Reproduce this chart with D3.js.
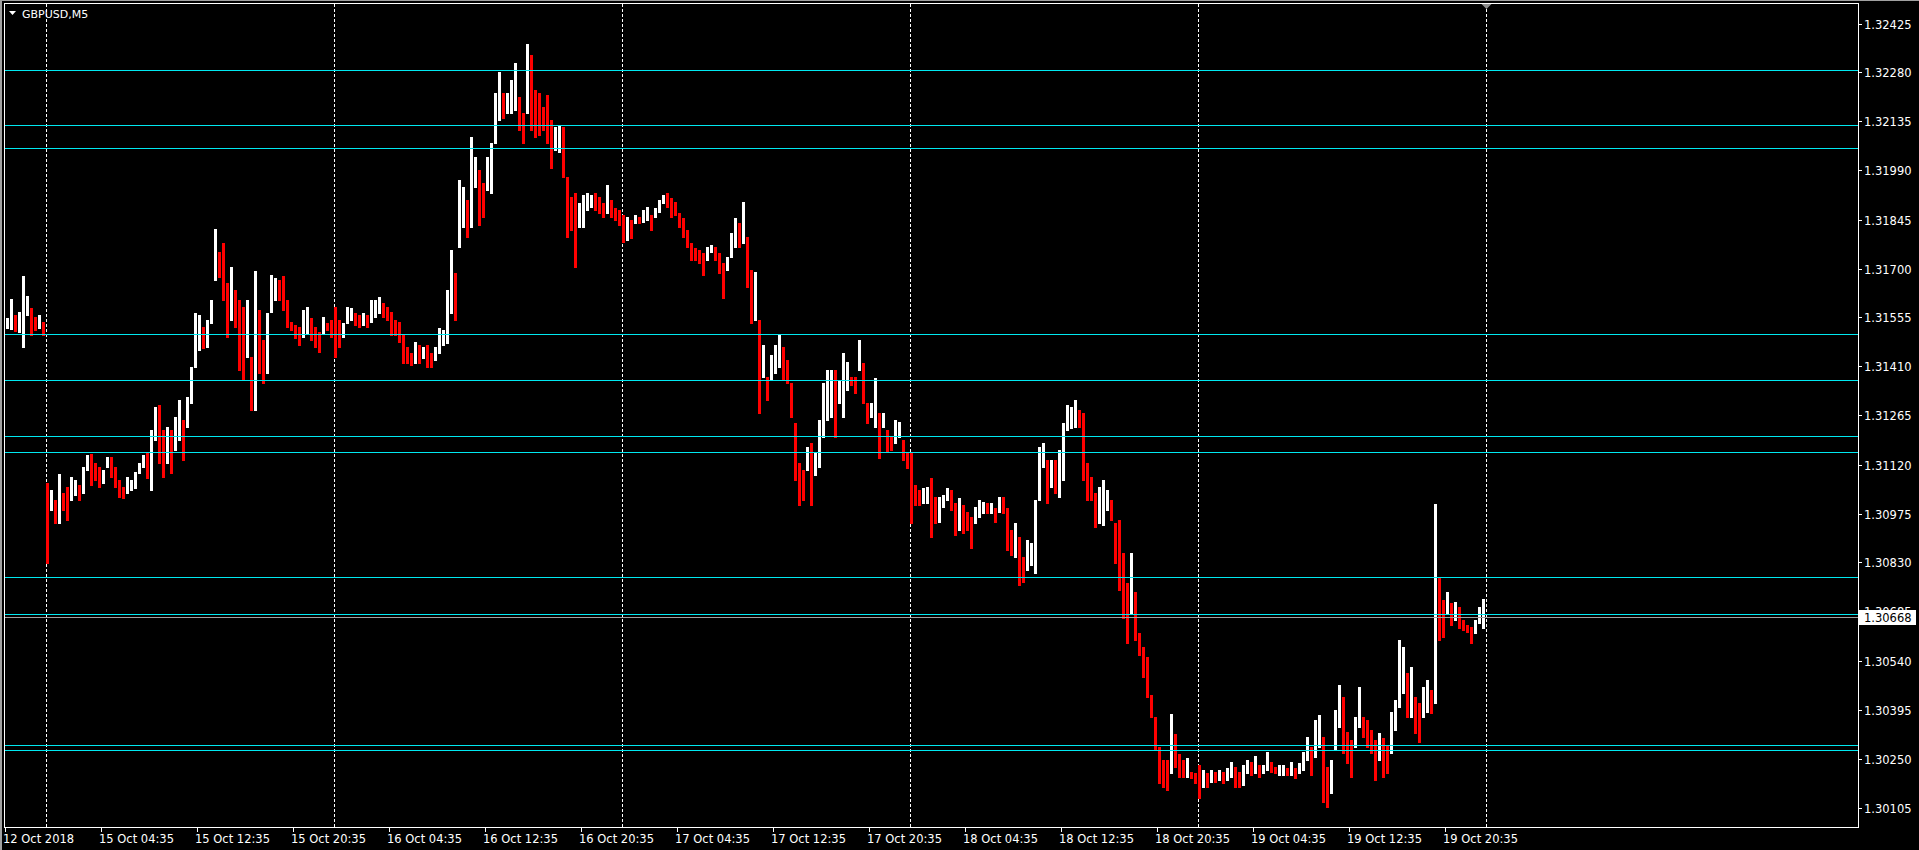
<!DOCTYPE html>
<html><head><meta charset="utf-8">
<script src="https://cdn.jsdelivr.net/npm/d3@7"></script>
<style>html,body{margin:0;padding:0;background:#000;overflow:hidden}svg{display:block}</style>
</head><body>
<svg id="chart" width="1919" height="850"></svg>
<script>
const symbolTitle = "GBPUSD,M5";
const priceTicks = [1.32425,1.32280,1.32135,1.31990,1.31845,1.31700,1.31555,1.31410,1.31265,1.31120,1.30975,1.30830,1.30685,1.30540,1.30395,1.30250,1.30105];
const timeLabels = ["12 Oct 2018","15 Oct 04:35","15 Oct 12:35","15 Oct 20:35","16 Oct 04:35","16 Oct 12:35","16 Oct 20:35","17 Oct 04:35","17 Oct 12:35","17 Oct 20:35","18 Oct 04:35","18 Oct 12:35","18 Oct 20:35","19 Oct 04:35","19 Oct 12:35","19 Oct 20:35"];
const timeLabelBars = [0,96,192,288,384,480,576,672,768,864,960,1056,1152,1248,1344,1440];
const dayStartBars = [41,329,617,905,1193,1481];
const levelPrices = [1.32288,1.32125,1.32057,1.31507,1.31371,1.31205,1.31158,1.30788,1.30678,1.30289,1.30276];
const lastPrice = 1.30668;
const barsPerEntry = 4;   // each entry aggregates 4 M5 bars (20 minutes)
const firstEntryBar = 1;

const highs = [
1.31555,1.31611,1.31564,1.31573,1.31679,1.31620,1.31585,1.31558,1.31564,1.31543,
1.31067,1.31046,1.31017,1.31093,1.31037,1.31055,1.31084,1.31076,1.31061,1.31114,
1.31150,1.31153,1.31126,1.31114,1.31105,1.31144,1.31144,1.31114,1.31076,1.31055,
1.31084,1.31076,1.31099,1.31126,1.31150,1.31156,1.31224,1.31292,1.31298,1.31224,
1.31233,1.31224,1.31262,1.31313,1.31253,1.31322,1.31410,1.31570,1.31564,1.31528,
1.31549,1.31608,1.31818,1.31750,1.31777,1.31659,1.31706,1.31638,1.31608,1.31587,
1.31608,1.31440,1.31694,1.31579,1.31490,1.31570,1.31682,1.31674,1.31668,1.31679,
1.31608,1.31543,1.31534,1.31528,1.31579,1.31587,1.31555,1.31528,1.31514,1.31558,
1.31540,1.31549,1.31587,1.31549,1.31540,1.31587,1.31585,1.31570,1.31564,1.31570,
1.31564,1.31608,1.31608,1.31617,1.31599,1.31587,1.31573,1.31549,1.31543,1.31505,
1.31469,1.31451,1.31484,1.31475,1.31469,1.31475,1.31451,1.31469,1.31525,1.31520,
1.31638,1.31756,1.31688,1.31963,1.31942,1.31904,1.32090,1.32032,1.31993,1.31954,
1.32032,1.32073,1.32221,1.32283,1.32221,1.32221,1.32259,1.32309,1.32209,1.32162,
1.32366,1.32333,1.32230,1.32221,1.32180,1.32215,1.32141,1.32120,1.32126,1.32120,
1.31972,1.31913,1.31925,1.31895,1.31919,1.31925,1.31919,1.31925,1.31913,1.31895,
1.31948,1.31904,1.31880,1.31875,1.31860,1.31854,1.31845,1.31860,1.31854,1.31875,
1.31884,1.31860,1.31880,1.31904,1.31919,1.31925,1.31910,1.31898,1.31866,1.31851,
1.31815,1.31777,1.31762,1.31756,1.31747,1.31765,1.31771,1.31765,1.31747,1.31718,
1.31736,1.31806,1.31851,1.31836,1.31898,1.31794,1.31697,1.31691,1.31549,1.31475,
1.31381,1.31446,1.31475,1.31508,1.31469,1.31431,1.31363,1.31244,1.31126,1.31105,
1.31174,1.31185,1.31159,1.31253,1.31363,1.31401,1.31401,1.31401,1.31372,1.31451,
1.31425,1.31381,1.31381,1.31490,1.31422,1.31304,1.31304,1.31378,1.31274,1.31274,
1.31224,1.31203,1.31253,1.31247,1.31194,1.31159,1.31159,1.31061,1.31046,1.31052,
1.31055,1.31081,1.31025,1.31025,1.31031,1.31052,1.31046,1.31008,1.31022,1.31002,
1.30981,1.30966,1.30996,1.31017,1.31011,1.31008,1.31008,1.30993,1.31025,1.31025,
1.30993,1.30928,1.30948,1.30907,1.30848,1.30898,1.30889,1.31017,1.31174,1.31185,
1.31135,1.31135,1.31135,1.31165,1.31244,1.31298,1.31292,1.31313,1.31283,1.31274,
1.31126,1.31084,1.31037,1.31055,1.31076,1.31046,1.31017,1.30948,1.30957,1.30860,
1.30771,1.30860,1.30744,1.30623,1.30582,1.30552,1.30440,1.30375,1.30286,1.30247,
1.30247,1.30384,1.30325,1.30265,1.30247,1.30253,1.30212,1.30209,1.30233,1.30218,
1.30209,1.30218,1.30212,1.30218,1.30212,1.30224,1.30241,1.30227,1.30212,1.30233,
1.30247,1.30241,1.30259,1.30233,1.30233,1.30271,1.30241,1.30227,1.30233,1.30233,
1.30224,1.30241,1.30224,1.30238,1.30271,1.30316,1.30286,1.30366,1.30381,1.30316,
1.30227,1.30247,1.30395,1.30469,1.30434,1.30330,1.30307,1.30375,1.30464,1.30375,
1.30366,1.30336,1.30307,1.30327,1.30313,1.30292,1.30389,1.30425,1.30602,1.30582,
1.30505,1.30523,1.30434,1.30416,1.30464,1.30484,1.30455,1.31005,1.30786,1.30721,
1.30744,1.30712,1.30715,1.30700,1.30662,1.30647,1.30641,1.30662,1.30700,1.30724
];
const lows = [
1.31525,1.31522,1.31517,1.31514,1.31469,1.31564,1.31505,1.31520,1.31525,1.31505,
1.30830,1.30987,1.30948,1.30948,1.30987,1.30957,1.31017,1.31031,1.31017,1.31037,
1.31105,1.31061,1.31076,1.31055,1.31067,1.31114,1.31084,1.31055,1.31025,1.31022,
1.31037,1.31046,1.31052,1.31096,1.31114,1.31081,1.31046,1.31194,1.31126,1.31084,
1.31126,1.31096,1.31165,1.31194,1.31135,1.31233,1.31304,1.31410,1.31460,1.31466,
1.31469,1.31540,1.31668,1.31676,1.31608,1.31499,1.31549,1.31528,1.31401,1.31372,
1.31440,1.31283,1.31283,1.31392,1.31363,1.31392,1.31573,1.31608,1.31608,1.31579,
1.31528,1.31520,1.31496,1.31475,1.31499,1.31511,1.31490,1.31469,1.31454,1.31511,
1.31520,1.31499,1.31440,1.31469,1.31499,1.31540,1.31549,1.31534,1.31528,1.31534,
1.31528,1.31543,1.31558,1.31570,1.31558,1.31549,1.31505,1.31505,1.31484,1.31422,
1.31422,1.31416,1.31422,1.31422,1.31437,1.31410,1.31410,1.31431,1.31451,1.31475,
1.31481,1.31570,1.31549,1.31765,1.31824,1.31794,1.31824,1.31942,1.31830,1.31854,
1.31934,1.31925,1.32073,1.32141,1.32147,1.32162,1.32162,1.32171,1.32111,1.32073,
1.32162,1.32111,1.32090,1.32096,1.32111,1.32073,1.31999,1.32052,1.32046,1.31972,
1.31794,1.31815,1.31706,1.31824,1.31824,1.31875,1.31884,1.31875,1.31866,1.31854,
1.31866,1.31854,1.31845,1.31830,1.31780,1.31786,1.31792,1.31836,1.31836,1.31839,
1.31845,1.31815,1.31854,1.31869,1.31895,1.31884,1.31854,1.31860,1.31824,1.31794,
1.31765,1.31727,1.31727,1.31718,1.31682,1.31727,1.31750,1.31727,1.31688,1.31614,
1.31697,1.31736,1.31765,1.31765,1.31777,1.31647,1.31540,1.31549,1.31274,1.31381,
1.31313,1.31372,1.31392,1.31410,1.31372,1.31363,1.31262,1.31076,1.31002,1.31017,
1.31105,1.31002,1.31090,1.31114,1.31203,1.31253,1.31262,1.31203,1.31304,1.31262,
1.31342,1.31357,1.31333,1.31401,1.31304,1.31244,1.31262,1.31233,1.31141,1.31233,
1.31159,1.31165,1.31185,1.31203,1.31135,1.31111,1.30948,1.31002,1.31002,1.31008,
1.31008,1.30907,1.30948,1.30951,1.30996,1.31017,1.30987,1.30913,1.30928,1.30919,
1.30928,1.30875,1.30948,1.30966,1.30978,1.30978,1.30978,1.30951,1.30981,1.30978,
1.30869,1.30854,1.30848,1.30765,1.30774,1.30810,1.30824,1.30801,1.31017,1.31114,
1.31008,1.31055,1.31037,1.31025,1.31076,1.31224,1.31230,1.31233,1.31233,1.31076,
1.31017,1.31017,1.30936,1.30948,1.30942,1.30987,1.30957,1.30830,1.30750,1.30668,
1.30593,1.30680,1.30602,1.30558,1.30493,1.30434,1.30375,1.30277,1.30180,1.30168,
1.30159,1.30209,1.30227,1.30197,1.30197,1.30197,1.30194,1.30180,1.30135,1.30168,
1.30168,1.30183,1.30183,1.30188,1.30180,1.30188,1.30197,1.30168,1.30168,1.30174,
1.30209,1.30203,1.30209,1.30197,1.30209,1.30218,1.30212,1.30209,1.30203,1.30203,
1.30203,1.30203,1.30194,1.30209,1.30218,1.30247,1.30203,1.30256,1.30286,1.30124,
1.30109,1.30150,1.30277,1.30345,1.30268,1.30238,1.30197,1.30286,1.30345,1.30316,
1.30286,1.30268,1.30188,1.30247,1.30197,1.30209,1.30268,1.30336,1.30404,1.30446,
1.30375,1.30375,1.30327,1.30301,1.30375,1.30389,1.30386,1.30416,1.30602,1.30611,
1.30682,1.30647,1.30662,1.30638,1.30632,1.30626,1.30593,1.30623,1.30653,1.30638
];

const W = 1919, H = 850;
const plot = {left: 4.5, top: 3.5, right: 1858.5, bottom: 827.5};
const FONT = "'DejaVu Sans', Verdana, sans-serif";
const svg = d3.select("#chart");

const x = d3.scaleLinear().domain([0, 1480]).range([5, 1485]);
const y = d3.scaleLinear().domain([1.30105, 1.32425]).range([808, 24]);
const crisp = v => Math.floor(v) + 0.5;

svg.append("rect").attr("width", W).attr("height", H).attr("fill", "#000");
// window edge
svg.append("rect").attr("x", 0).attr("y", 0).attr("width", W).attr("height", 1).attr("fill", "#a0a0a0");
svg.append("rect").attr("x", 0).attr("y", 0).attr("width", 2).attr("height", H).attr("fill", "#a0a0a0");

const gPlot = svg.append("g");
// day separators (behind bars)
gPlot.selectAll("line.sep").data(dayStartBars).join("line")
  .attr("class", "sep")
  .attr("x1", d => crisp(x(d))).attr("x2", d => crisp(x(d)))
  .attr("y1", plot.top + 0.5).attr("y2", plot.bottom - 0.5)
  .attr("stroke", "#ffffff").attr("stroke-width", 1).attr("stroke-dasharray", "3,2");

// bars
const entries = highs.map((h, i) => ({i, h, l: lows[i], bar: firstEntryBar + i * barsPerEntry}));
entries.forEach((e, i) => {
  const mid = (e.h + e.l) / 2;
  const prev = i > 0 ? (entries[i-1].h + entries[i-1].l) / 2 : mid;
  e.up = mid >= prev;
});
gPlot.selectAll("rect.bar").data(entries).join("rect")
  .attr("class", "bar")
  .attr("x", d => x(d.bar))
  .attr("width", barsPerEntry - 1)
  .attr("y", d => Math.round(y(d.h)))
  .attr("height", d => Math.max(1, Math.round(y(d.l)) - Math.round(y(d.h)) + 1))
  .attr("fill", d => d.up ? "#ffffff" : "#ff0000");

// horizontal levels
gPlot.selectAll("line.level").data(levelPrices).join("line")
  .attr("class", "level")
  .attr("x1", plot.left).attr("x2", plot.right)
  .attr("y1", d => crisp(y(d))).attr("y2", d => crisp(y(d)))
  .attr("stroke", "#00e8f0").attr("stroke-width", 1);

// last price line
gPlot.append("line")
  .attr("x1", plot.left).attr("x2", plot.right)
  .attr("y1", crisp(y(lastPrice))).attr("y2", crisp(y(lastPrice)))
  .attr("stroke", "#a0a0a0").attr("stroke-width", 1);

// frame
svg.append("rect")
  .attr("x", plot.left).attr("y", plot.top)
  .attr("width", plot.right - plot.left).attr("height", plot.bottom - plot.top)
  .attr("fill", "none").attr("stroke", "#ffffff").attr("stroke-width", 1);

// chart shift marker
const sx = crisp(x(dayStartBars[dayStartBars.length - 1]));
svg.append("path")
  .attr("d", `M${sx-5},4 L${sx+5},4 L${sx},9 Z`)
  .attr("fill", "#8c8c8c");

// title
svg.append("path").attr("d", "M9,11 L16,11 L12.5,15 Z").attr("fill", "#ffffff");
svg.append("text").attr("x", 22).attr("y", 18)
  .attr("font-family", FONT).attr("font-size", "11px").attr("fill", "#ffffff")
  .text(symbolTitle);

// price axis
const gY = svg.append("g");
priceTicks.forEach(p => {
  const yy = Math.floor(y(p));
  gY.append("line").attr("x1", 1859).attr("x2", 1862)
    .attr("y1", yy + 0.5).attr("y2", yy + 0.5).attr("stroke", "#ffffff");
  gY.append("text").attr("x", 1864).attr("y", yy + 5)
    .attr("font-family", FONT).attr("font-size", "11.5px").attr("fill", "#ffffff")
    .text(d3.format(".5f")(p));
});
// current price label (drawn over the partly hidden 1.30685 tick label, as in the terminal)
const ly = Math.floor(y(lastPrice));
gY.append("rect").attr("x", 1859).attr("y", ly - 7).attr("width", 57).attr("height", 15).attr("fill", "#ffffff");
gY.append("text").attr("x", 1864).attr("y", ly + 5)
  .attr("font-family", FONT).attr("font-size", "11.5px").attr("fill", "#000000")
  .text(d3.format(".5f")(lastPrice));

// time axis
const gX = svg.append("g");
timeLabels.forEach((t, i) => {
  const xx = crisp(x(timeLabelBars[i]));
  gX.append("line").attr("x1", xx).attr("x2", xx).attr("y1", 828).attr("y2", 832).attr("stroke", "#ffffff");
  gX.append("text").attr("x", xx - 2.5).attr("y", 843)
    .attr("font-family", FONT).attr("font-size", "11.5px").attr("fill", "#ffffff")
    .text(t);
});
</script>
</body></html>
